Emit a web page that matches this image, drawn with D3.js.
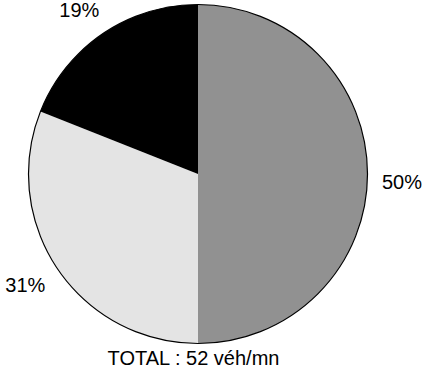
<!DOCTYPE html>
<html>
<head>
<meta charset="utf-8">
<script src="https://cdn.jsdelivr.net/npm/d3@7"></script>
<style>
  html, body { margin: 0; padding: 0; background: #fff; }
  svg { display: block; }
  text { font-family: "Liberation Sans", Arial, Helvetica, sans-serif; font-size: 20px; fill: #000; }
</style>
</head>
<body>
<svg id="chart" width="430" height="383"></svg>
<script>
// Share of traffic by category (percent), drawn clockwise from 12 o'clock
const categories = ["A", "B", "C"];
const shares = [50, 31, 19];
const sliceColors = ["#919191", "#e4e4e4", "#000000"];
const totalLabel = "TOTAL : 52 véh/mn";

const width = 430, height = 383;
const cx = 198, cy = 174, radius = 169.5;
const labelRadius = 204;
// small hand nudges for the percentage labels [dx, dy]
const labelNudge = [[0, 8], [-4, -4], [-4, 5]];

const svg = d3.select("#chart");
const g = svg.append("g").attr("transform", `translate(${cx},${cy})`);

const data = categories.map((c, i) => ({ cat: c, value: shares[i], color: sliceColors[i] }));

const pie = d3.pie().value(d => d.value).sort(null);
const arcs = pie(data);
const arc = d3.arc().innerRadius(0).outerRadius(radius);
const labelArc = d3.arc().innerRadius(labelRadius).outerRadius(labelRadius);

g.selectAll("path.slice")
  .data(arcs)
  .join("path")
  .attr("class", "slice")
  .attr("d", arc)
  .attr("fill", d => d.data.color);

// outline only around the rim
g.append("circle")
  .attr("r", radius)
  .attr("fill", "none")
  .attr("stroke", "#000")
  .attr("stroke-width", 1.2);

g.selectAll("text.pct")
  .data(arcs)
  .join("text")
  .attr("class", "pct")
  .attr("text-anchor", "middle")
  .attr("dominant-baseline", "central")
  .attr("x", (d, i) => labelArc.centroid(d)[0] + labelNudge[i][0])
  .attr("y", (d, i) => labelArc.centroid(d)[1] + labelNudge[i][1])
  .text(d => d.data.value + "%");

svg.append("text")
  .attr("x", 193.5)
  .attr("y", 365)
  .attr("text-anchor", "middle")
  .text(totalLabel);
</script>
</body>
</html>
